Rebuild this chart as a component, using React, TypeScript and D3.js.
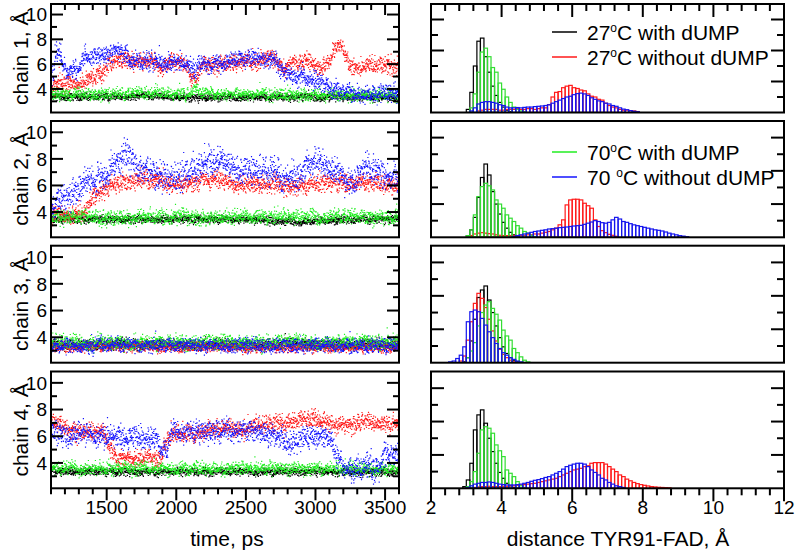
import React from "react";
import * as d3 from "d3";

// ---------- data ----------
const TIME_DOMAIN: [number, number] = [1100, 3600];
const DIST_DOMAIN: [number, number] = [2.1, 10.85];
const HIST_X_DOMAIN: [number, number] = [2, 12];
const HIST_Y_DOMAIN: [number, number] = [0, 7];
const BIN_WIDTH = 0.1;

const chainLabels = ["chain 1, Å", "chain 2, Å", "chain 3, Å", "chain 4, Å"];
const seriesTemps = ["27", "27", "70", "70 "];
const seriesRest = ["C with dUMP", "C without dUMP", "C with dUMP", "C without dUMP"];
const seriesColors = ["#000000", "#ff1a1a", "#22ee22", "#1515ff"];
const histColors = ["#000000", "#ff1a1a", "#33dd33", "#1515ee"];
const timeTicks = [1500, 2000, 2500, 3000, 3500];
const distTicks = [4, 6, 8, 10];
const histXTicks = [2, 4, 6, 8, 10, 12];

// time series trend knots [time ps, distance Å] (series: black, red, green, blue)
const c1Black = [[1100, 3.4], [1600, 3.45], [2200, 3.35], [2800, 3.4], [3600, 3.35]];
const c1Red = [[1100, 4.4], [1300, 4.5], [1400, 4.9], [1480, 5.6], [1540, 6.3], [1700, 6.3], [1840, 6.1], [1880, 5.6], [1940, 6.2], [2070, 6.1], [2100, 5.0], [2140, 4.5], [2170, 5.6], [2200, 6.0], [2400, 6.0], [2500, 6.3], [2620, 6.3], [2680, 6.8], [2720, 6.3], [2780, 5.7], [2830, 6.2], [2950, 6.4], [3030, 5.8], [3080, 6.0], [3140, 7.2], [3180, 7.6], [3220, 6.8], [3250, 6.0], [3300, 5.7], [3400, 5.9], [3600, 5.9]];
const c1Green = [[1100, 3.6], [2100, 3.65], [2130, 4.3], [2160, 3.7], [2600, 3.6], [3600, 3.55]];
const c1Blue = [[1100, 4.7], [1115, 5.0], [1125, 7.0], [1170, 6.8], [1200, 5.6], [1300, 5.6], [1340, 6.5], [1500, 6.8], [1560, 7.0], [1640, 6.9], [1660, 6.3], [1860, 6.2], [1900, 6.1], [2070, 6.2], [2100, 5.7], [2150, 5.8], [2180, 6.0], [2400, 6.3], [2500, 6.5], [2680, 6.5], [2720, 6.1], [2780, 5.3], [2880, 5.0], [3000, 4.7], [3060, 4.3], [3120, 3.9], [3200, 3.7], [3600, 3.6]];

const c2Black = [[1100, 3.5], [2000, 3.5], [2500, 3.45], [2900, 3.3], [3100, 3.4], [3600, 3.55]];
const c2Red = [[1100, 3.8], [1330, 3.9], [1380, 5.0], [1450, 5.5], [1520, 6.0], [1600, 6.3], [1900, 6.5], [1950, 6.0], [2050, 6.2], [2200, 6.5], [2350, 6.5], [2400, 6.1], [2700, 6.2], [2800, 5.9], [2950, 6.1], [3100, 6.3], [3600, 6.2]];
const c2Green = [[1100, 3.6], [3600, 3.65]];
const c2Blue = [[1100, 4.3], [1130, 4.6], [1160, 5.2], [1250, 5.4], [1300, 6.0], [1400, 6.3], [1500, 6.9], [1560, 8.0], [1620, 8.5], [1680, 7.8], [1720, 7.2], [1850, 7.0], [1900, 6.5], [2000, 6.6], [2100, 7.0], [2200, 7.6], [2300, 8.0], [2400, 7.5], [2450, 7.0], [2550, 7.3], [2700, 7.2], [2750, 6.6], [2900, 6.6], [2950, 7.8], [3000, 7.6], [3150, 7.2], [3200, 6.4], [3300, 6.5], [3350, 7.4], [3450, 7.3], [3500, 6.6], [3600, 6.5]];

const c3Black = [[1100, 3.5], [3600, 3.5]];
const c3Red = [[1100, 3.35], [3600, 3.3]];
const c3Green = [[1100, 3.65], [3600, 3.7]];
const c3Blue = [[1100, 3.4], [3600, 3.4]];

const c4Black = [[1100, 3.4], [3600, 3.35]];
const c4Red = [[1100, 7.2], [1180, 6.8], [1250, 6.4], [1480, 6.4], [1520, 5.2], [1570, 4.4], [1880, 4.3], [1920, 5.4], [1960, 6.2], [2150, 6.3], [2200, 6.5], [2500, 6.7], [2700, 7.0], [2900, 7.1], [3000, 7.4], [3080, 6.9], [3150, 7.0], [3600, 7.0]];
const c4Green = [[1100, 3.6], [3600, 3.6]];
const c4Blue = [[1100, 6.2], [1500, 6.1], [1700, 5.9], [1860, 5.8], [1880, 5.0], [1930, 5.0], [1960, 6.2], [2100, 6.4], [2400, 6.4], [2550, 6.5], [2750, 6.0], [2800, 5.5], [2880, 5.6], [2900, 6.0], [3100, 6.0], [3130, 5.0], [3190, 4.0], [3210, 3.6], [3460, 3.6], [3490, 4.8], [3600, 4.8]];

// fluctuation (std, Å) of each cloud around its trend
const c1Spread = [0.17, 0.38, 0.27, 0.42];
const c2Spread = [0.17, 0.38, 0.32, 0.6];
const c3Spread = [0.22, 0.22, 0.3, 0.3];
const c4Spread = [0.17, 0.38, 0.27, 0.48];

// histograms: first bin left edge + heights of 0.1 Å bins
const h1Start = [3.0, 3.3, 3.1, 3.1];
const h1Black = [0.2, 1.3, 3.0, 4.6, 4.8, 3.6, 2.6, 1.7, 1.1, 0.65, 0.35, 0.15, 0.05];
const h1Red = [0.1, 0.15, 0.2, 0.2, 0.2, 0.2, 0.15, 0.15, 0.2, 0.2, 0.2, 0.25, 0.2, 0.2, 0.25, 0.25, 0.2, 0.25, 0.3, 0.3, 0.5, 1.0, 1.3, 1.35, 1.6, 1.7, 1.75, 1.6, 1.55, 1.45, 1.4, 1.2, 1.05, 1.0, 0.85, 0.8, 0.6, 0.45, 0.35, 0.3, 0.2, 0.15, 0.15, 0.12, 0.1, 0.06];
const h1Green = [0.3, 1.2, 2.6, 3.9, 4.15, 3.6, 2.9, 2.6, 1.9, 1.5, 1.0, 0.65, 0.35, 0.2, 0.1, 0.05];
const h1Blue = [0.1, 0.3, 0.55, 0.65, 0.7, 0.7, 0.65, 0.6, 0.5, 0.45, 0.35, 0.3, 0.3, 0.32, 0.3, 0.33, 0.35, 0.35, 0.38, 0.4, 0.42, 0.45, 0.5, 0.6, 0.7, 0.8, 0.9, 1.0, 1.05, 1.15, 1.22, 1.25, 1.2, 1.1, 0.95, 0.85, 0.75, 0.7, 0.6, 0.55, 0.45, 0.4, 0.3, 0.22, 0.18, 0.12, 0.08, 0.05];

const h2Start = [3.0, 3.1, 3.0, 4.3];
const h2Black = [0.1, 0.45, 1.2, 2.4, 3.6, 4.41, 3.75, 2.75, 2.0, 1.4, 0.9, 0.55, 0.3, 0.15, 0.05];
const h2Red = [0.1, 0.2, 0.25, 0.28, 0.25, 0.22, 0.2, 0.15, 0.12, 0.1, 0.1, 0.1, 0.12, 0.1, 0.12, 0.12, 0.15, 0.15, 0.2, 0.2, 0.25, 0.3, 0.35, 0.45, 0.55, 0.75, 1.05, 1.95, 2.25, 2.29, 2.29, 2.25, 2.05, 1.9, 1.75, 1.05, 0.65, 0.4, 0.28, 0.18, 0.12, 0.06];
const h2Green = [0.1, 0.45, 1.35, 2.45, 3.05, 3.25, 3.1, 2.85, 2.25, 2.0, 1.75, 1.35, 1.15, 0.95, 0.7, 0.55, 0.35, 0.25, 0.12, 0.05];
const h2Blue = [0.05, 0.1, 0.15, 0.2, 0.25, 0.3, 0.35, 0.38, 0.42, 0.45, 0.5, 0.52, 0.55, 0.58, 0.6, 0.62, 0.65, 0.68, 0.7, 0.72, 0.78, 0.85, 0.92, 1.0, 0.95, 0.88, 0.85, 0.9, 1.05, 1.2, 1.1, 0.95, 0.9, 0.82, 0.75, 0.7, 0.65, 0.6, 0.55, 0.5, 0.45, 0.42, 0.38, 0.32, 0.25, 0.2, 0.15, 0.1, 0.07, 0.04];

const h3Start = [2.9, 2.8, 3.0, 2.5];
const h3Black = [0.05, 0.3, 1.3, 2.6, 3.9, 4.35, 4.59, 3.75, 3.0, 2.2, 1.5, 0.95, 0.55, 0.3, 0.15, 0.05];
const h3Red = [0.1, 0.4, 1.35, 2.45, 3.55, 4.15, 3.85, 3.3, 2.6, 1.9, 1.3, 0.8, 0.5, 0.3, 0.15, 0.05];
const h3Green = [0.3, 0.7, 1.2, 2.2, 3.0, 3.45, 3.65, 3.25, 2.9, 2.55, 1.95, 1.6, 1.35, 0.85, 0.6, 0.35, 0.15, 0.05];
const h3Blue = [0.05, 0.1, 0.25, 0.45, 0.95, 2.45, 3.05, 3.15, 3.05, 2.65, 2.25, 1.85, 1.5, 1.15, 0.85, 0.6, 0.45, 0.3, 0.2, 0.1, 0.05];

const h4Start = [2.9, 3.2, 3.0, 3.0];
const h4Black = [0.1, 0.5, 1.5, 3.5, 4.4, 4.7, 3.9, 3.0, 2.2, 1.5, 0.95, 0.6, 0.3, 0.15, 0.05];
const h4Red = [0.05, 0.08, 0.1, 0.1, 0.12, 0.1, 0.1, 0.1, 0.12, 0.12, 0.15, 0.15, 0.18, 0.2, 0.22, 0.25, 0.28, 0.3, 0.35, 0.4, 0.45, 0.5, 0.55, 0.6, 0.7, 0.8, 0.9, 1.0, 1.1, 1.15, 1.2, 1.3, 1.35, 1.5, 1.54, 1.54, 1.54, 1.45, 1.3, 1.15, 1.0, 0.8, 0.7, 0.55, 0.45, 0.35, 0.28, 0.22, 0.18, 0.14, 0.1, 0.08, 0.06, 0.05, 0.04, 0.03];
const h4Green = [0.1, 0.4, 1.0, 2.1, 3.5, 3.69, 3.6, 3.3, 2.6, 2.25, 1.9, 1.1, 0.9, 0.7, 0.4, 0.15, 0.05];
const h4Blue = [0.05, 0.15, 0.25, 0.3, 0.35, 0.35, 0.38, 0.35, 0.3, 0.25, 0.22, 0.2, 0.2, 0.2, 0.22, 0.25, 0.3, 0.35, 0.42, 0.48, 0.52, 0.58, 0.65, 0.7, 0.8, 0.9, 1.0, 1.15, 1.3, 1.38, 1.45, 1.5, 1.5, 1.45, 1.3, 1.1, 0.95, 0.8, 0.6, 0.5, 0.35, 0.25, 0.15, 0.1, 0.05];

const chainKnots = [
  [c1Black, c1Red, c1Green, c1Blue],
  [c2Black, c2Red, c2Green, c2Blue],
  [c3Black, c3Red, c3Green, c3Blue],
  [c4Black, c4Red, c4Green, c4Blue],
];
const chainSpreads = [c1Spread, c2Spread, c3Spread, c4Spread];
const chainHists = [
  [h1Black, h1Red, h1Green, h1Blue],
  [h2Black, h2Red, h2Green, h2Blue],
  [h3Black, h3Red, h3Green, h3Blue],
  [h4Black, h4Red, h4Green, h4Blue],
];
const chainHistStarts = [h1Start, h2Start, h3Start, h4Start];

// ---------- layout ----------
const LX0 = 51, LX1 = 399, RX0 = 431, RX1 = 784;
const PANELS: [number, number][] = [[4, 112.5], [121, 237.3], [245.7, 362.7], [371.5, 488.3]];
const FONT = "'Liberation Sans', Arial, Helvetica, sans-serif";
const TICK_FS = 19;
const TITLE_FS = 21;
const LEGEND_FS = 21;

function hash(n: number) {
  n = n | 0;
  n = (n ^ 61) ^ (n >>> 16);
  n = n + (n << 3);
  n = n ^ (n >>> 4);
  n = Math.imul(n, 0x27d4eb2d);
  n = n ^ (n >>> 15);
  return (n >>> 0) / 4294967296;
}
function h3(i: number, s: number, k: number) {
  return hash(i * 7919 + s * 104729 + k * 1299709 + 17);
}
function interp(knots: number[][], t: number) {
  for (let j = 0; j < knots.length - 1; j++) {
    const [t0, v0] = knots[j], [t1, v1] = knots[j + 1];
    if (t >= t0 && t <= t1) return v0 + ((t - t0) / (t1 - t0)) * (v1 - v0);
  }
  return knots[knots.length - 1][1];
}

function cloudPath(knots: number[][], spread: number, seed: number, x: any, y: any) {
  const step = 1.4;
  const n = Math.round((TIME_DOMAIN[1] - TIME_DOMAIN[0]) / step);
  let d = "";
  for (let i = 0; i <= n; i++) {
    const t = TIME_DOMAIN[0] + i * step;
    const lvl = interp(knots, t);
    const g = (h3(i, seed, 1) + h3(i, seed, 2) + h3(i, seed, 3) - 1.5) * 2;
    const b = Math.floor(i / 14), f = (i % 14) / 14;
    const slow = ((1 - f) * h3(b, seed, 7) + f * h3(b + 1, seed, 7) - 0.5) * 1.0;
    let v = lvl + spread * (g * 0.85 + slow);
    if (h3(i, seed, 5) < 0.03) v += spread * 3.2 * (h3(i, seed, 6) - 0.35);
    const px = x(t), py = y(v);
    d += `M${px.toFixed(1)},${py.toFixed(1)}h1.2v1.2h-1.2z`;
  }
  return d;
}

const Legend = ({ x, y, color, temp, rest }: any) => (
  <g>
    <line x1={x} x2={x + 25} y1={y} y2={y} stroke={color} strokeWidth={1.5} />
    <text x={x + 35} y={y + 7.5} fontSize={LEGEND_FS} fontFamily={FONT}>
      {temp}
      <tspan fontSize={12} dy={-8}>o</tspan>
      <tspan dy={8}>{rest}</tspan>
    </text>
  </g>
);

export default function App() {
  const x = d3.scaleLinear().domain(TIME_DOMAIN).range([LX0, LX1]);
  const hx = d3.scaleLinear().domain(HIST_X_DOMAIN).range([RX0, RX1]);
  const minorTime = d3.range(1100, 3601, 100);
  const minorHist = d3.range(5, 31).map((k) => k * 0.4);

  return (
    <svg width={799} height={555} style={{ display: "block", position: "absolute", left: 0, top: 0 }} fontFamily={FONT}>
      <rect width={799} height={555} fill="#fff" />
      <defs>
        {PANELS.map(([t, b], i) => (
          <React.Fragment key={i}>
            <clipPath id={`cl${i}`}><rect x={LX0} y={t} width={LX1 - LX0} height={b - t} /></clipPath>
            <clipPath id={`cr${i}`}><rect x={RX0} y={t} width={RX1 - RX0} height={b - t} /></clipPath>
          </React.Fragment>
        ))}
      </defs>
      {PANELS.map(([top, bot], ci) => {
        const y = d3.scaleLinear().domain(DIST_DOMAIN).range([bot, top]);
        const hy = d3.scaleLinear().domain(HIST_Y_DOMAIN).range([bot, top]);
        const order = [0, 1, 2, 3];
        return (
          <g key={ci}>
            {/* scatter clouds */}
            <g clipPath={`url(#cl${ci})`}>
              {order.map((s) => (
                <path key={s} d={cloudPath(chainKnots[ci][s], chainSpreads[ci][s], ci * 10 + s + 1, x, y)} fill={seriesColors[s]} />
              ))}
            </g>
            {/* histograms */}
            <g clipPath={`url(#cr${ci})`}>
              {order.map((s) => {
                const start = chainHistStarts[ci][s];
                return (
                  <g key={s} fill="none" stroke={histColors[s]} strokeWidth={1.2}>
                    {chainHists[ci][s].map((hv, k) => {
                      const x0 = hx(start + k * BIN_WIDTH), x1 = hx(start + (k + 1) * BIN_WIDTH);
                      return <rect key={k} x={x0} y={hy(hv)} width={x1 - x0} height={bot - hy(hv)} />;
                    })}
                  </g>
                );
              })}
            </g>
            {/* left panel frame + ticks */}
            <rect x={LX0} y={top} width={LX1 - LX0} height={bot - top} fill="none" stroke="#000" strokeWidth={2} />
            {d3.range(3, 11).map((v) => {
              const len = v % 2 === 0 ? 12 : 6;
              return (
                <g key={v} stroke="#000" strokeWidth={2}>
                  <line x1={LX0} x2={LX0 + len} y1={y(v)} y2={y(v)} />
                  <line x1={LX1} x2={LX1 - len} y1={y(v)} y2={y(v)} />
                </g>
              );
            })}
            {distTicks.map((v) => (
              <text key={v} x={47} y={y(v)} dy="0.36em" textAnchor="end" fontSize={TICK_FS}>{v}</text>
            ))}
            <text transform={`translate(28,${(top + bot) / 2}) rotate(-90)`} textAnchor="middle" fontSize={TITLE_FS}>{chainLabels[ci]}</text>
            {/* right panel frame + ticks */}
            <rect x={RX0} y={top} width={RX1 - RX0} height={bot - top} fill="none" stroke="#000" strokeWidth={2} />
            {d3.range(1, 7).map((v) => {
              const len = v % 2 === 0 ? 13 : 7;
              return (
                <g key={v} stroke="#000" strokeWidth={2}>
                  <line x1={RX0} x2={RX0 + len} y1={hy(v)} y2={hy(v)} />
                  <line x1={RX1} x2={RX1 - len} y1={hy(v)} y2={hy(v)} />
                </g>
              );
            })}
            {ci === 0 && (
              <g stroke="#000" strokeWidth={2}>
                {minorTime.map((t) => (
                  <line key={t} x1={x(t)} x2={x(t)} y1={top} y2={top + (t % 500 === 0 ? 11 : 6)} />
                ))}
                {minorHist.map((v, k) => (
                  <line key={k} x1={hx(v)} x2={hx(v)} y1={top} y2={top + ((k + 5) % 5 === 0 ? 13 : 7)} />
                ))}
              </g>
            )}
            {ci === 3 && (
              <g>
                <g stroke="#000" strokeWidth={2}>
                  {minorTime.map((t) => (
                    <line key={t} x1={x(t)} x2={x(t)} y1={bot} y2={bot + (t % 500 === 0 ? 12 : 6)} />
                  ))}
                  {minorHist.map((v, k) => (
                    <line key={k} x1={hx(v)} x2={hx(v)} y1={bot} y2={bot + ((k + 5) % 5 === 0 ? 13 : 7)} />
                  ))}
                </g>
                {timeTicks.map((t) => (
                  <text key={t} x={x(t)} y={514} textAnchor="middle" fontSize={TICK_FS}>{t}</text>
                ))}
                {histXTicks.map((v) => (
                  <text key={v} x={hx(v)} y={514} textAnchor="middle" fontSize={TICK_FS}>{v}</text>
                ))}
              </g>
            )}
          </g>
        );
      })}
      <Legend x={552} y={32} color={seriesColors[0]} temp={seriesTemps[0]} rest={seriesRest[0]} />
      <Legend x={552} y={57} color={seriesColors[1]} temp={seriesTemps[1]} rest={seriesRest[1]} />
      <Legend x={552} y={152} color={seriesColors[2]} temp={seriesTemps[2]} rest={seriesRest[2]} />
      <Legend x={552} y={177} color={seriesColors[3]} temp={seriesTemps[3]} rest={seriesRest[3]} />
      <text x={227} y={546} textAnchor="middle" fontSize={TITLE_FS}>time, ps</text>
      <text x={618} y={546} textAnchor="middle" fontSize={TITLE_FS}>distance TYR91-FAD, Å</text>
    </svg>
  );
}
